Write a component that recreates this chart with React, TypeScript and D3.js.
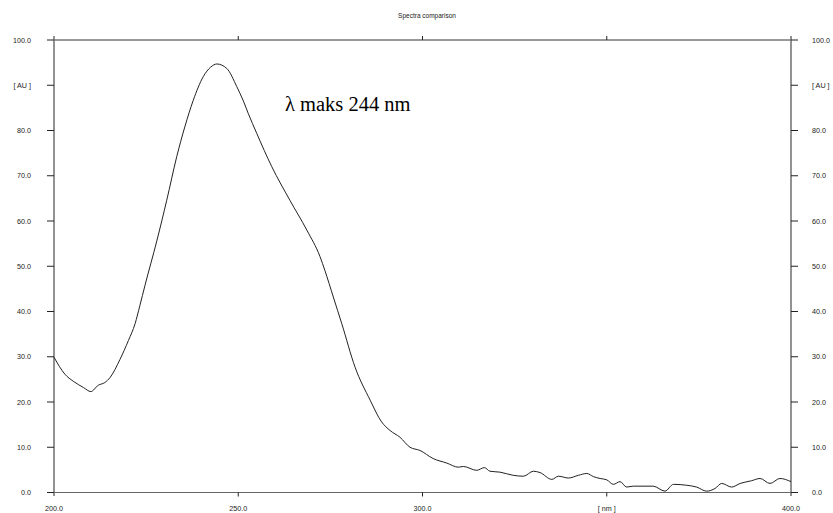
import React from "react";
import * as d3 from "d3";

const title = "Spectra comparison";
const annotation = "λ maks 244 nm";
const wavelengths = [200, 203, 205.2, 208, 210, 212, 213.8, 215.2, 217.9, 220.2, 222, 223.3, 224.7, 227.9, 230.6, 233.3, 235.5, 237.8, 240.5, 242.5, 244.2, 246.9, 249.6, 251.4, 252.7, 255, 259.1, 264, 268.6, 272.2, 273.5, 275.8, 278.1, 281.7, 285.8, 288.9, 291.2, 293.9, 296.6, 299.3, 302.9, 306.6, 309.7, 311.1, 314.7, 316.8, 318.3, 321, 324.6, 327.4, 330.1, 331.9, 335.1, 336.9, 339.6, 342.3, 344.6, 346.4, 348.2, 350, 351.8, 353.6, 355.4, 357.2, 362.6, 365.8, 368.1, 371.7, 374.4, 377.1, 379.4, 381.2, 383.9, 386.2, 389.3, 391.6, 394.3, 397, 400];
const absorbance = [29.9, 26.1, 24.6, 23.2, 22.3, 23.7, 24.3, 25.4, 29.4, 33.6, 37.3, 41.3, 45.8, 55.6, 64.6, 74.2, 80.8, 86.7, 91.9, 94.0, 94.7, 93.7, 89.7, 86.5, 83.8, 79.4, 72, 64.6, 58, 52.1, 49.1, 43.2, 37.3, 27.7, 20.4, 15.6, 13.7, 12.2, 10, 9.3, 7.5, 6.5, 5.6, 5.75, 4.9, 5.5, 4.7, 4.5, 3.8, 3.6, 4.7, 4.4, 2.9, 3.6, 3.2, 3.8, 4.2, 3.5, 3.1, 2.8, 1.8, 2.4, 1.2, 1.4, 1.4, 0.3, 1.8, 1.6, 1.2, 0.3, 0.9, 2.0, 1.2, 2.0, 2.6, 3.1, 2.0, 3.1, 2.4];
const yTicks = [0, 10, 20, 30, 40, 50, 60, 70, 80, 90, 100];
const yTickLabels = ["0.0", "10.0", "20.0", "30.0", "40.0", "50.0", "60.0", "70.0", "80.0", "[ AU ]", "100.0"];
const xTicks = [200, 250, 300, 350, 400];
const xTickLabels = ["200.0", "250.0", "300.0", "[ nm ]", "400.0"];

export default function App() {
  const W = 833, H = 513;
  const left = 54, right = 791, top = 40, bottom = 492.5;
  const x = d3.scaleLinear().domain([200, 400]).range([left, right]);
  const y = d3.scaleLinear().domain([0, 100]).range([bottom, top]);
  const line = d3
    .line<number>()
    .x((_, i) => x(wavelengths[i]))
    .y((d) => y(d))
    .curve(d3.curveMonotoneX);
  const font = "Arial, 'Liberation Sans', sans-serif";
  return (
    <svg
      width={W}
      height={H}
      style={{ position: "absolute", left: 0, top: 0, background: "#fff" }}
    >
      <rect x={0} y={0} width={W} height={H} fill="#fff" />
      <text x={427} y={18} fontSize={6.5} fontFamily={font} textAnchor="middle" fill="#222">
        {title}
      </text>
      <line x1={left} x2={right} y1={top} y2={top} stroke="#333" strokeWidth={1} />
      <line x1={left} x2={right} y1={bottom} y2={bottom} stroke="#666" strokeWidth={1.2} />
      <line x1={left} x2={left} y1={36} y2={496} stroke="#777" strokeWidth={1.6} />
      <line x1={right} x2={right} y1={36} y2={496} stroke="#777" strokeWidth={1.6} />
      {yTicks.map((t, i) => (
        <g key={"y" + t}>
          <line x1={47} x2={left} y1={y(t)} y2={y(t)} stroke="#222" strokeWidth={1} />
          <line x1={right} x2={798} y1={y(t)} y2={y(t)} stroke="#222" strokeWidth={1} />
          <text x={31} y={y(t)} dy="0.35em" fontSize={7.2} fontFamily={font} textAnchor="end" fill="#222">
            {yTickLabels[i]}
          </text>
          <text x={812} y={y(t)} dy="0.35em" fontSize={7.2} fontFamily={font} textAnchor="start" fill="#222">
            {yTickLabels[i]}
          </text>
        </g>
      ))}
      {xTicks.map((t, i) => (
        <g key={"x" + t}>
          {i > 0 && i < xTicks.length - 1 && (
            <>
              <line x1={x(t)} x2={x(t)} y1={top - 4} y2={top} stroke="#222" strokeWidth={1} />
              <line x1={x(t)} x2={x(t)} y1={bottom} y2={bottom + 4} stroke="#222" strokeWidth={1} />
            </>
          )}
          <text x={x(t)} y={508} dy="0.35em" fontSize={7.2} fontFamily={font} textAnchor="middle" fill="#222">
            {xTickLabels[i]}
          </text>
        </g>
      ))}
      <path d={line(absorbance) || ""} fill="none" stroke="#222" strokeWidth={1} />
      <text x={285} y={111} fontSize={20.5} fontFamily="'Liberation Serif', 'Times New Roman', serif" fill="#000">
        {annotation}
      </text>
    </svg>
  );
}
